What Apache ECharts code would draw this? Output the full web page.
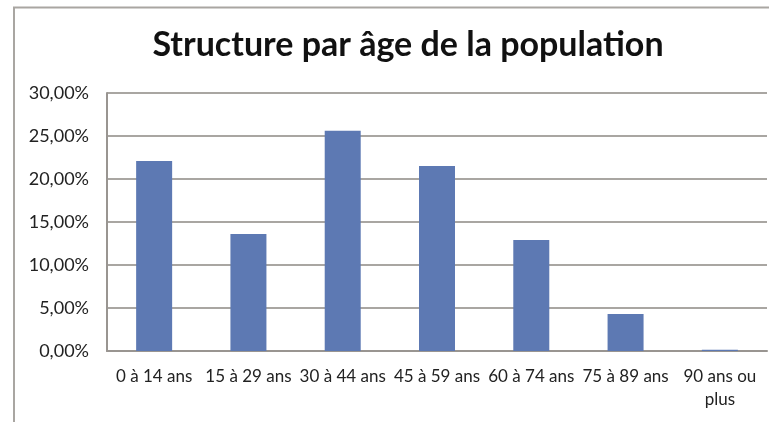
<!DOCTYPE html>
<html>
<head>
<meta charset="utf-8">
<script src="https://cdn.jsdelivr.net/npm/echarts@6/dist/echarts.min.js"></script>
<style>
	html, body { margin: 0; padding: 0; background: #fff; }
	#chart { width: 769px; height: 422px; }
</style>
</head>
<body>
<div id="chart"></div>
<script>
var categories = ['0 à 14 ans', '15 à 29 ans', '30 à 44 ans', '45 à 59 ans', '60 à 74 ans', '75 à 89 ans', '90 ans ou\nplus'];
var shares = [22.1, 13.6, 25.6, 21.5, 12.9, 4.3, 0.15];

var myChart = echarts.init(document.getElementById('chart'));

var option = {
	backgroundColor: '#fff',
	animation: false,
	title: {
		text: 'Structure par âge de la population',
		left: 403,
		top: 23,
		textAlign: 'center',
		textStyle: {
			fontFamily: 'Lato',
			fontWeight: 'bold',
			fontSize: 34,
			color: '#111'
		}
	},
	graphic: [{
		type: 'polyline',
		shape: { points: [[14, 430], [14, 7.5], [775, 7.5]] },
		style: { stroke: '#a9a6a2', lineWidth: 2, fill: null },
		silent: true
	}],
	grid: {
		left: 107,
		right: 2,
		top: 93,
		bottom: 71
	},
	xAxis: {
		type: 'category',
		data: categories,
		axisLine: { lineStyle: { color: '#999591', width: 2 } },
		axisTick: { show: false },
		axisLabel: {
			interval: 0,
			color: '#222',
			fontFamily: 'Lato',
			fontSize: 17,
			margin: 14,
			lineHeight: 23,
			align: 'center'
		}
	},
	yAxis: {
		type: 'value',
		min: 0,
		max: 30,
		interval: 5,
		axisLine: { show: true, lineStyle: { color: '#999591', width: 2 } },
		axisTick: { show: false },
		splitLine: { lineStyle: { color: '#a9a6a2', width: 2 } },
		axisLabel: {
			color: '#222',
			fontFamily: 'Lato',
			fontSize: 18,
			margin: 18,
			formatter: function (v) {
				return v.toFixed(2).replace('.', ',') + '%';
			}
		}
	},
	series: [{
		type: 'bar',
		data: shares,
		barWidth: 36,
		itemStyle: { color: '#5d79b3' }
	}]
};

myChart.setOption(option);
</script>
</body>
</html>
